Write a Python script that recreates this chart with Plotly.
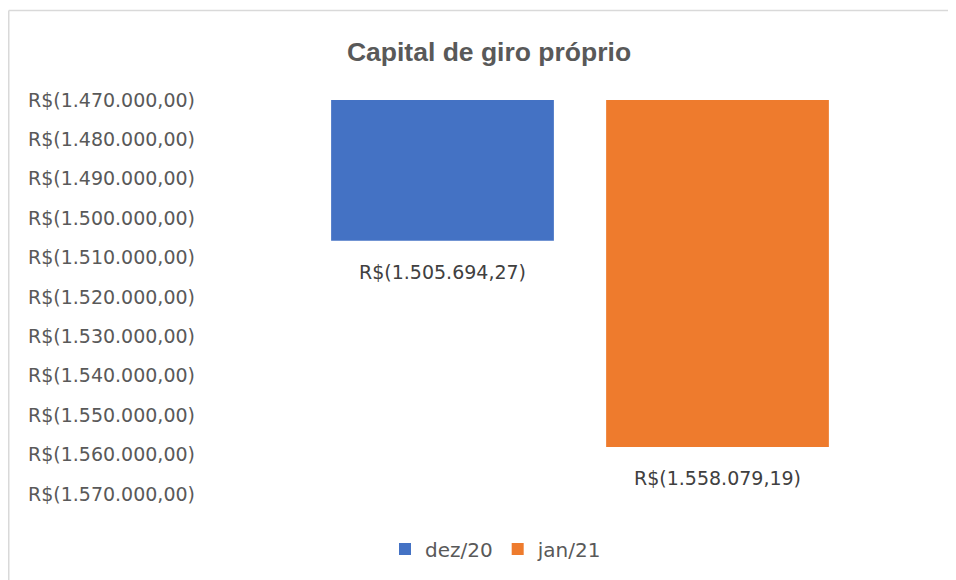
import plotly.graph_objects as go

categories = ["dez/20", "jan/21"]
values = [-1505694.27, -1558079.19]
colors = ["#4472C4", "#EE7B2D"]
tick_vals = [-1470000, -1480000, -1490000, -1500000, -1510000, -1520000,
             -1530000, -1540000, -1550000, -1560000, -1570000]


def brl(v):
    s = f"{abs(v):,.2f}".replace(",", "X").replace(".", ",").replace("X", ".")
    return f"R$({s})" if v < 0 else f"R${s}"


W, H = 948, 572
L, R, T, B = 297, 101, 92, 86
PW, PH = W - L - R, H - T - B

fig = go.Figure()
for cat, val, col in zip(categories, values, colors):
    fig.add_trace(go.Bar(
        x=[cat], y=[val], name=cat,
        marker=dict(color=col, line=dict(width=0)),
        width=0.81,
    ))
    fig.add_annotation(x=cat, y=val, text=brl(val), showarrow=False,
                       yanchor="middle", yshift=-31,
                       font=dict(family="DejaVu Sans", size=19, color="#404040"))

fig.update_layout(
    width=W, height=H,
    paper_bgcolor="white", plot_bgcolor="white",
    margin=dict(l=L, r=R, t=T, b=B),
    barmode="overlay",
    showlegend=True,
    title=dict(text="<b>Capital de giro próprio</b>", x=481 / W, xanchor="center",
               xref="container", yref="container", y=1 - 44 / H, yanchor="middle",
               font=dict(family="Liberation Sans", size=26.5, color="#595959")),
    legend=dict(orientation="h", xref="container", yref="container",
                x=488 / W, xanchor="center", y=1 - 541 / H, yanchor="middle",
                font=dict(family="DejaVu Sans", size=20, color="#595959"),
                itemwidth=30, traceorder="normal"),
    xaxis=dict(showticklabels=False, showgrid=False, zeroline=False, showline=False,
               range=[-0.5, 1.5]),
    yaxis=dict(range=[-1570000, -1470000], tickvals=tick_vals,
               ticktext=[brl(v) for v in tick_vals],
               showgrid=False, zeroline=False, showline=False,
               ticklabelstandoff=109,
               tickfont=dict(family="DejaVu Sans", size=19, color="#595959")),
    shapes=[
        dict(type="line", xref="paper", yref="paper",
             x0=(0.75 - L) / PW, x1=(0.75 - L) / PW,
             y0=-(B + 10) / PH, y1=(H - B - 2.5) / PH,
             line=dict(color="#D9D9D9", width=1.5), layer="below"),
        dict(type="line", xref="paper", yref="paper",
             x0=(0.75 - L) / PW, x1=(W + 10 - L) / PW,
             y0=(H - B - 2.5) / PH, y1=(H - B - 2.5) / PH,
             line=dict(color="#D9D9D9", width=1.5), layer="below"),
    ],
)

fig.write_html("out.html")
